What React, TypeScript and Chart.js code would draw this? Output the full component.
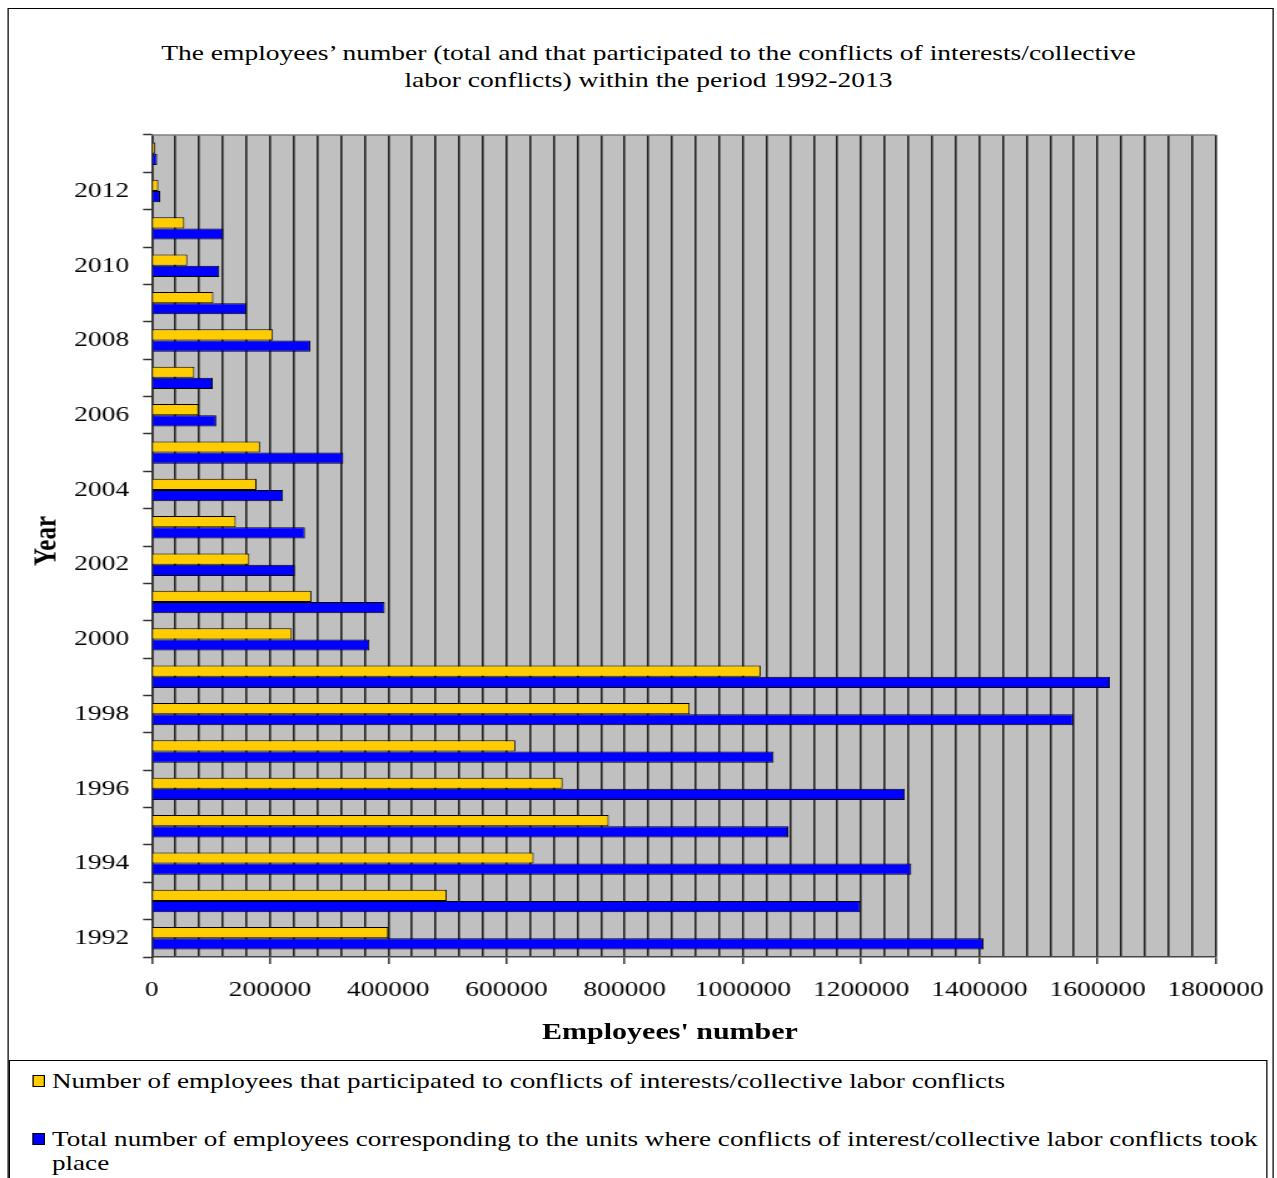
import React, { useEffect, useRef } from 'react';
import { Chart, registerables } from 'chart.js';

Chart.register(...registerables);

// ---- data ----
const years = [
  '1992', '1993', '1994', '1995', '1996', '1997', '1998', '1999', '2000', '2001', '2002',
  '2003', '2004', '2005', '2006', '2007', '2008', '2009', '2010', '2011', '2012', '2013',
];
const participated = [
  400000, 499000, 646000, 773000, 695000, 615000, 910000, 1030000, 237000, 270000, 165000,
  142000, 177000, 183000, 79000, 72000, 205000, 104000, 60000, 55000, 11000, 6000,
];
const totalEmployees = [
  1407000, 1199000, 1285000, 1077000, 1274000, 1052000, 1559000, 1621000, 368000, 394000, 242000,
  259000, 222000, 324000, 109000, 103000, 268000, 160000, 114000, 121000, 14000, 9000,
];
const seriesLabels = [
  'Number of employees that participated to conflicts of interests/collective labor conflicts',
  'Total number of employees corresponding to the units where conflicts of interest/collective labor conflicts took place',
];
const seriesColors = ['#FFCC00', '#0000FF'];
const titleLines = [
  'The employees\u2019 number (total and that participated to the conflicts of interests/collective',
  'labor conflicts) within the period 1992-2013',
];
const xAxisTitle = "Employees' number";
const yAxisTitle = 'Year';
const xMin = 0;
const xMax = 1800000;
const xGridStep = 40000;
const xLabelStep = 200000;

// horizontal stretch of the whole picture
const S = 1.25;
const X = (px: number) => px / S;

const FONT = "'Liberation Serif', 'Times New Roman', serif";

export default function App() {
  const canvasRef = useRef<HTMLCanvasElement | null>(null);

  useEffect(() => {
    const canvas = canvasRef.current;
    if (!canvas) return;
    Chart.defaults.font.family = FONT;
    Chart.defaults.color = '#000';

    const plotBg = {
      id: 'plotBg',
      beforeDraw(chart: any) {
        const { ctx, chartArea: a } = chart;
        ctx.save();
        ctx.fillStyle = '#C0C0C0';
        ctx.fillRect(a.left, a.top, a.right - a.left, a.bottom - a.top);
        ctx.restore();
      },
      afterDraw(chart: any) {
        const { ctx, chartArea: a } = chart;
        ctx.save();
        ctx.strokeStyle = '#808080';
        ctx.lineWidth = 1.5;
        ctx.beginPath();
        ctx.moveTo(a.left, a.top);
        ctx.lineTo(a.right, a.top);
        ctx.stroke();
        ctx.restore();
      },
    };

    const chart = new Chart(canvas, {
      type: 'bar',
      data: {
        labels: years,
        datasets: [
          {
            label: seriesLabels[0],
            data: participated,
            backgroundColor: seriesColors[0],
            borderColor: '#000',
            borderWidth: 1,
          },
          {
            label: seriesLabels[1],
            data: totalEmployees,
            backgroundColor: seriesColors[1],
            borderColor: '#000',
            borderWidth: 1,
          },
        ],
      },
      options: {
        indexAxis: 'y',
        responsive: true,
        maintainAspectRatio: false,
        animation: false,
        devicePixelRatio: 1,
        layout: { padding: { top: 15, right: 50, left: 0, bottom: 0 } },
        datasets: { bar: { barPercentage: 1, categoryPercentage: 0.6 } },
        plugins: {
          legend: { display: false },
          title: { display: false },
          tooltip: { enabled: false },
        },
        scales: {
          x: {
            type: 'linear',
            min: xMin,
            max: xMax,
            ticks: {
              stepSize: xGridStep,
              autoSkip: false,
              maxRotation: 0,
              minRotation: 0,
              padding: 13,
              font: { size: 22, family: FONT },
              color: '#000',
              callback: (v: any) => (Number(v) % xLabelStep === 0 ? String(v) : ''),
            },
            grid: {
              color: '#222',
              lineWidth: 1.6,
              tickLength: 7,
              tickWidth: 1.5,
              tickColor: (ctx: any) =>
                ctx.tick && Number(ctx.tick.value) % xLabelStep === 0 ? '#333' : 'rgba(0,0,0,0)',
            },
            border: { color: '#444', width: 1.5 },
            afterFit: (scale: any) => {
              scale.height = 63;
              scale.paddingLeft = 0;
              scale.paddingRight = 0;
            },
          },
          y: {
            type: 'category',
            reverse: true,
            ticks: {
              autoSkip: false,
              padding: 11,
              font: { size: 22, family: FONT },
              color: '#000',
              callback: (_v: any, i: number) => (Number(years[i]) % 2 === 0 ? years[i] : ''),
            },
            grid: {
              drawOnChartArea: false,
              offset: true,
              tickLength: 7,
              tickWidth: 1.5,
              tickColor: '#333',
            },
            border: { color: '#333', width: 1.5 },
            afterFit: (scale: any) => {
              scale.width = X(151.7);
              scale.paddingTop = 0;
              scale.paddingBottom = 0;
            },
          },
        },
      },
      plugins: [plotBg],
    } as any);

    return () => chart.destroy();
  }, []);

  const textStyle: React.CSSProperties = {
    position: 'absolute',
    fontFamily: FONT,
    color: '#000',
    whiteSpace: 'nowrap',
  };

  return (
    <div
      style={{
        position: 'fixed',
        left: 0,
        top: 0,
        width: X(1277),
        height: 1178,
        overflow: 'hidden',
        background: '#fff',
        transform: `scaleX(${S})`,
        transformOrigin: '0 0',
      }}
    >
      {/* outer frame */}
      <div
        style={{
          position: 'absolute',
          left: X(7),
          top: 8,
          width: X(1275 - 7) - 1,
          height: 1300,
          border: '1.5px solid #000',
          boxSizing: 'border-box',
        }}
      />
      {/* title */}
      <div
        style={{
          ...textStyle,
          left: 0,
          top: 39,
          width: 2 * X(648.5),
          textAlign: 'center',
          fontSize: 22,
          lineHeight: '27px',
        }}
      >
        {titleLines.map((t, i) => (
          <div key={i}>{t}</div>
        ))}
      </div>
      {/* chart */}
      <div style={{ position: 'absolute', left: 0, top: 120, width: X(1277), height: 900 }}>
        <canvas ref={canvasRef} />
      </div>
      {/* axis titles */}
      <div
        style={{
          ...textStyle,
          left: 0,
          top: 1019,
          width: 2 * X(670),
          textAlign: 'center',
          fontSize: 24,
          fontWeight: 'bold',
          lineHeight: '24px',
        }}
      >
        {xAxisTitle}
      </div>
      <div
        style={{
          ...textStyle,
          left: X(45),
          top: 541,
          fontSize: 25,
          fontWeight: 'bold',
          lineHeight: '24px',
          transform: 'translate(-50%, -50%) rotate(-90deg)',
        }}
      >
        {yAxisTitle}
      </div>
      {/* legend */}
      <div
        style={{
          position: 'absolute',
          left: X(9),
          top: 1060,
          width: X(1267 - 9),
          height: 200,
          border: '1.5px solid #000',
          boxSizing: 'border-box',
        }}
      />
      {seriesLabels.map((lab, i) => {
        const lineTop = i === 0 ? 1069 : 1127;
        return (
          <React.Fragment key={i}>
            <div
              style={{
                position: 'absolute',
                left: X(32),
                top: lineTop + 6,
                width: X(13),
                height: 12,
                background: seriesColors[i],
                border: '1px solid #000',
                boxSizing: 'border-box',
              }}
            />
            <div
              style={{
                ...textStyle,
                whiteSpace: 'normal',
                left: X(52),
                top: lineTop,
                width: X(1266 - 52),
                fontSize: 21.7,
                lineHeight: '24px',
              }}
            >
              {lab}
            </div>
          </React.Fragment>
        );
      })}
    </div>
  );
}
